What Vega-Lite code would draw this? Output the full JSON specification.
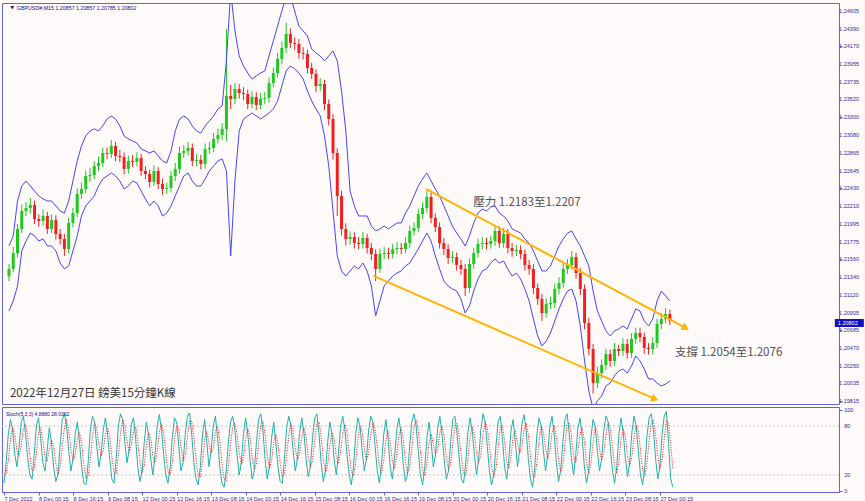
{
"$schema":"https://vega.github.io/schema/vega-lite/v6.json",
"background":"#fffafa",
"padding":{"left":1,"top":2,"right":0,"bottom":0},
"spacing":0,
"config":{"view":{"stroke":"#6262e6","strokeWidth":1},"axis":{"grid":false,"labelOverlap":false,"labelFont":"Liberation Sans","labelFontSize":5.5,"labelColor":"#2c2ca0","domainColor":"#6262e6","tickColor":"#6262e6","tickSize":3},"font":"Liberation Sans"},
"datasets":{
"px":[
{"k":0,"o":1.21350,"c":1.21440,"h":1.21500,"l":1.21290,"u":1.21722,"b":1.20924},
{"k":1,"o":1.21440,"c":1.21635,"h":1.21710,"l":1.21400,"u":1.21845,"b":1.21047},
{"k":2,"o":1.21635,"c":1.21931,"h":1.21990,"l":1.21580,"u":1.22274,"b":1.21231},
{"k":3,"o":1.21931,"c":1.22151,"h":1.22230,"l":1.21880,"u":1.22458,"b":1.21660},
{"k":4,"o":1.22151,"c":1.22188,"h":1.22260,"l":1.22090,"u":1.22519,"b":1.21783},
{"k":5,"o":1.22188,"c":1.22225,"h":1.22310,"l":1.22120,"u":1.22458,"b":1.21881},
{"k":6,"o":1.22225,"c":1.22053,"h":1.22280,"l":1.21990,"u":1.22397,"b":1.21845},
{"k":7,"o":1.22053,"c":1.22029,"h":1.22110,"l":1.21960,"u":1.22336,"b":1.21783},
{"k":8,"o":1.22029,"c":1.22090,"h":1.22170,"l":1.21970,"u":1.22299,"b":1.21808},
{"k":9,"o":1.22090,"c":1.21931,"h":1.22140,"l":1.21870,"u":1.22274,"b":1.21722},
{"k":10,"o":1.21931,"c":1.22041,"h":1.22110,"l":1.21880,"u":1.22274,"b":1.21722},
{"k":11,"o":1.22041,"c":1.21869,"h":1.22100,"l":1.21800,"u":1.22213,"b":1.21660},
{"k":12,"o":1.21869,"c":1.21808,"h":1.21930,"l":1.21740,"u":1.22151,"b":1.21513},
{"k":13,"o":1.21808,"c":1.21685,"h":1.21870,"l":1.21600,"u":1.22126,"b":1.21440},
{"k":14,"o":1.21685,"c":1.22004,"h":1.22070,"l":1.21630,"u":1.22274,"b":1.21476},
{"k":15,"o":1.22004,"c":1.22126,"h":1.22190,"l":1.21950,"u":1.22519,"b":1.21660},
{"k":16,"o":1.22126,"c":1.22360,"h":1.22430,"l":1.22080,"u":1.22765,"b":1.21845},
{"k":17,"o":1.22360,"c":1.22421,"h":1.22500,"l":1.22300,"u":1.22949,"b":1.22090},
{"k":18,"o":1.22421,"c":1.22581,"h":1.22650,"l":1.22370,"u":1.23072,"b":1.22213},
{"k":19,"o":1.22581,"c":1.22593,"h":1.22680,"l":1.22510,"u":1.23133,"b":1.22274},
{"k":20,"o":1.22593,"c":1.22704,"h":1.22760,"l":1.22540,"u":1.23158,"b":1.22336},
{"k":21,"o":1.22704,"c":1.22740,"h":1.22820,"l":1.22640,"u":1.23133,"b":1.22458},
{"k":22,"o":1.22740,"c":1.22863,"h":1.22930,"l":1.22690,"u":1.23194,"b":1.22544},
{"k":23,"o":1.22863,"c":1.22851,"h":1.22930,"l":1.22790,"u":1.23280,"b":1.22581},
{"k":24,"o":1.22851,"c":1.22949,"h":1.23020,"l":1.22800,"u":1.23317,"b":1.22618},
{"k":25,"o":1.22949,"c":1.22827,"h":1.23000,"l":1.22760,"u":1.23280,"b":1.22581},
{"k":26,"o":1.22827,"c":1.22814,"h":1.22900,"l":1.22750,"u":1.23194,"b":1.22519},
{"k":27,"o":1.22814,"c":1.22667,"h":1.22870,"l":1.22600,"u":1.23072,"b":1.22421},
{"k":28,"o":1.22667,"c":1.22765,"h":1.22830,"l":1.22610,"u":1.23035,"b":1.22458},
{"k":29,"o":1.22765,"c":1.22753,"h":1.22840,"l":1.22690,"u":1.23010,"b":1.22519},
{"k":30,"o":1.22753,"c":1.22802,"h":1.22870,"l":1.22700,"u":1.22985,"b":1.22495},
{"k":31,"o":1.22802,"c":1.22642,"h":1.22850,"l":1.22580,"u":1.22912,"b":1.22397},
{"k":32,"o":1.22642,"c":1.22605,"h":1.22700,"l":1.22540,"u":1.22888,"b":1.22299},
{"k":33,"o":1.22605,"c":1.22507,"h":1.22660,"l":1.22440,"u":1.22863,"b":1.22213},
{"k":34,"o":1.22507,"c":1.22642,"h":1.22710,"l":1.22460,"u":1.22888,"b":1.22274},
{"k":35,"o":1.22642,"c":1.22482,"h":1.22690,"l":1.22420,"u":1.22827,"b":1.22213},
{"k":36,"o":1.22482,"c":1.22421,"h":1.22550,"l":1.22350,"u":1.22765,"b":1.22090},
{"k":37,"o":1.22421,"c":1.22433,"h":1.22500,"l":1.22360,"u":1.22740,"b":1.22126},
{"k":38,"o":1.22433,"c":1.22581,"h":1.22640,"l":1.22380,"u":1.22888,"b":1.22213},
{"k":39,"o":1.22581,"c":1.22667,"h":1.22740,"l":1.22520,"u":1.23133,"b":1.22336},
{"k":40,"o":1.22667,"c":1.22863,"h":1.22940,"l":1.22610,"u":1.23280,"b":1.22458},
{"k":41,"o":1.22863,"c":1.22888,"h":1.22960,"l":1.22800,"u":1.23317,"b":1.22581},
{"k":42,"o":1.22888,"c":1.22924,"h":1.23000,"l":1.22830,"u":1.23280,"b":1.22618},
{"k":43,"o":1.22924,"c":1.22765,"h":1.22980,"l":1.22700,"u":1.23194,"b":1.22519},
{"k":44,"o":1.22765,"c":1.22778,"h":1.22850,"l":1.22700,"u":1.23133,"b":1.22458},
{"k":45,"o":1.22778,"c":1.22728,"h":1.22840,"l":1.22660,"u":1.23108,"b":1.22458},
{"k":46,"o":1.22728,"c":1.22912,"h":1.22980,"l":1.22670,"u":1.23194,"b":1.22544},
{"k":47,"o":1.22912,"c":1.22924,"h":1.23000,"l":1.22850,"u":1.23256,"b":1.22642},
{"k":48,"o":1.22924,"c":1.23035,"h":1.23110,"l":1.22870,"u":1.23317,"b":1.22704},
{"k":49,"o":1.23035,"c":1.23084,"h":1.23160,"l":1.22980,"u":1.23403,"b":1.22765},
{"k":50,"o":1.23084,"c":1.23158,"h":1.23230,"l":1.23020,"u":1.23440,"b":1.22790},
{"k":51,"o":1.23158,"c":1.23563,"h":1.24384,"l":1.23010,"u":1.23992,"b":1.22642},
{"k":52,"o":1.23563,"c":1.23526,"h":1.23700,"l":1.23400,"u":1.24851,"b":1.21599},
{"k":53,"o":1.23526,"c":1.23648,"h":1.23720,"l":1.23460,"u":1.24360,"b":1.22519},
{"k":54,"o":1.23648,"c":1.23599,"h":1.23710,"l":1.23530,"u":1.24053,"b":1.23133},
{"k":55,"o":1.23599,"c":1.23587,"h":1.23670,"l":1.23510,"u":1.23931,"b":1.23280},
{"k":56,"o":1.23587,"c":1.23464,"h":1.23640,"l":1.23400,"u":1.23844,"b":1.23317},
{"k":57,"o":1.23464,"c":1.23550,"h":1.23620,"l":1.23410,"u":1.23771,"b":1.23354},
{"k":58,"o":1.23550,"c":1.23452,"h":1.23610,"l":1.23390,"u":1.23808,"b":1.23317},
{"k":59,"o":1.23452,"c":1.23526,"h":1.23600,"l":1.23400,"u":1.23844,"b":1.23280},
{"k":60,"o":1.23526,"c":1.23538,"h":1.23610,"l":1.23460,"u":1.23869,"b":1.23317},
{"k":61,"o":1.23538,"c":1.23721,"h":1.23790,"l":1.23480,"u":1.24053,"b":1.23354},
{"k":62,"o":1.23721,"c":1.23844,"h":1.23910,"l":1.23670,"u":1.24237,"b":1.23403},
{"k":63,"o":1.23844,"c":1.24017,"h":1.24090,"l":1.23790,"u":1.24421,"b":1.23501},
{"k":64,"o":1.24017,"c":1.24151,"h":1.24230,"l":1.23950,"u":1.24605,"b":1.23685},
{"k":65,"o":1.24151,"c":1.24323,"h":1.24458,"l":1.24090,"u":1.24790,"b":1.23869},
{"k":66,"o":1.24323,"c":1.24212,"h":1.24390,"l":1.24150,"u":1.24790,"b":1.23931},
{"k":67,"o":1.24212,"c":1.24200,"h":1.24280,"l":1.24130,"u":1.24605,"b":1.23894},
{"k":68,"o":1.24200,"c":1.24090,"h":1.24260,"l":1.24020,"u":1.24421,"b":1.23844},
{"k":69,"o":1.24090,"c":1.24078,"h":1.24160,"l":1.24010,"u":1.24360,"b":1.23771},
{"k":70,"o":1.24078,"c":1.23906,"h":1.24130,"l":1.23840,"u":1.24298,"b":1.23624},
{"k":71,"o":1.23906,"c":1.23832,"h":1.23970,"l":1.23770,"u":1.24139,"b":1.23501},
{"k":72,"o":1.23832,"c":1.23685,"h":1.23890,"l":1.23610,"u":1.24090,"b":1.23403},
{"k":73,"o":1.23685,"c":1.23709,"h":1.23780,"l":1.23620,"u":1.24053,"b":1.23317},
{"k":74,"o":1.23709,"c":1.23464,"h":1.23760,"l":1.23390,"u":1.23992,"b":1.23072},
{"k":75,"o":1.23464,"c":1.23280,"h":1.23520,"l":1.23200,"u":1.24053,"b":1.22704},
{"k":76,"o":1.23280,"c":1.22863,"h":1.23340,"l":1.22780,"u":1.24115,"b":1.22151},
{"k":77,"o":1.22863,"c":1.22336,"h":1.22920,"l":1.22090,"u":1.23992,"b":1.21599},
{"k":78,"o":1.22336,"c":1.21931,"h":1.22400,"l":1.21850,"u":1.23624,"b":1.21415},
{"k":79,"o":1.21931,"c":1.21808,"h":1.22000,"l":1.21730,"u":1.23133,"b":1.21353},
{"k":80,"o":1.21808,"c":1.21832,"h":1.21900,"l":1.21740,"u":1.22397,"b":1.21415},
{"k":81,"o":1.21832,"c":1.21758,"h":1.21890,"l":1.21690,"u":1.22213,"b":1.21476},
{"k":82,"o":1.21758,"c":1.21746,"h":1.21830,"l":1.21680,"u":1.22090,"b":1.21440},
{"k":83,"o":1.21746,"c":1.21820,"h":1.21890,"l":1.21690,"u":1.22090,"b":1.21513},
{"k":84,"o":1.21820,"c":1.21697,"h":1.21870,"l":1.21630,"u":1.22090,"b":1.21415},
{"k":85,"o":1.21697,"c":1.21623,"h":1.21760,"l":1.21550,"u":1.21967,"b":1.21231},
{"k":86,"o":1.21623,"c":1.21440,"h":1.21680,"l":1.21292,"u":1.21906,"b":1.20863},
{"k":87,"o":1.21440,"c":1.21623,"h":1.21690,"l":1.21390,"u":1.21931,"b":1.21047},
{"k":88,"o":1.21623,"c":1.21635,"h":1.21710,"l":1.21560,"u":1.21967,"b":1.21231},
{"k":89,"o":1.21635,"c":1.21623,"h":1.21700,"l":1.21560,"u":1.21931,"b":1.21292},
{"k":90,"o":1.21623,"c":1.21685,"h":1.21750,"l":1.21570,"u":1.21967,"b":1.21353},
{"k":91,"o":1.21685,"c":1.21697,"h":1.21770,"l":1.21620,"u":1.22004,"b":1.21390},
{"k":92,"o":1.21697,"c":1.21685,"h":1.21760,"l":1.21620,"u":1.22004,"b":1.21415},
{"k":93,"o":1.21685,"c":1.21758,"h":1.21830,"l":1.21630,"u":1.22126,"b":1.21476},
{"k":94,"o":1.21758,"c":1.21906,"h":1.21970,"l":1.21700,"u":1.22213,"b":1.21513},
{"k":95,"o":1.21906,"c":1.21943,"h":1.22010,"l":1.21850,"u":1.22336,"b":1.21599},
{"k":96,"o":1.21943,"c":1.22114,"h":1.22180,"l":1.21890,"u":1.22458,"b":1.21685},
{"k":97,"o":1.22114,"c":1.22188,"h":1.22260,"l":1.22050,"u":1.22544,"b":1.21783},
{"k":98,"o":1.22188,"c":1.22323,"h":1.22397,"l":1.22130,"u":1.22618,"b":1.21881},
{"k":99,"o":1.22323,"c":1.22065,"h":1.22380,"l":1.22000,"u":1.22519,"b":1.21783},
{"k":100,"o":1.22065,"c":1.21955,"h":1.22120,"l":1.21890,"u":1.22421,"b":1.21599},
{"k":101,"o":1.21955,"c":1.21758,"h":1.22010,"l":1.21690,"u":1.22336,"b":1.21440},
{"k":102,"o":1.21758,"c":1.21685,"h":1.21820,"l":1.21610,"u":1.22213,"b":1.21292},
{"k":103,"o":1.21685,"c":1.21574,"h":1.21740,"l":1.21500,"u":1.22090,"b":1.21231},
{"k":104,"o":1.21574,"c":1.21586,"h":1.21660,"l":1.21510,"u":1.21967,"b":1.21194},
{"k":105,"o":1.21586,"c":1.21489,"h":1.21640,"l":1.21420,"u":1.21881,"b":1.21170},
{"k":106,"o":1.21489,"c":1.21440,"h":1.21550,"l":1.21370,"u":1.21808,"b":1.21072},
{"k":107,"o":1.21440,"c":1.21206,"h":1.21500,"l":1.21108,"u":1.21722,"b":1.20899},
{"k":108,"o":1.21206,"c":1.21501,"h":1.21570,"l":1.21150,"u":1.21845,"b":1.20986},
{"k":109,"o":1.21501,"c":1.21635,"h":1.21700,"l":1.21440,"u":1.22004,"b":1.21170},
{"k":110,"o":1.21635,"c":1.21746,"h":1.21810,"l":1.21580,"u":1.22126,"b":1.21317},
{"k":111,"o":1.21746,"c":1.21758,"h":1.21830,"l":1.21680,"u":1.22176,"b":1.21415},
{"k":112,"o":1.21758,"c":1.21746,"h":1.21820,"l":1.21680,"u":1.22151,"b":1.21440},
{"k":113,"o":1.21746,"c":1.21783,"h":1.21850,"l":1.21690,"u":1.22201,"b":1.21513},
{"k":114,"o":1.21783,"c":1.21906,"h":1.21980,"l":1.21720,"u":1.22213,"b":1.21562},
{"k":115,"o":1.21906,"c":1.21758,"h":1.21960,"l":1.21700,"u":1.22126,"b":1.21513},
{"k":116,"o":1.21758,"c":1.21869,"h":1.21940,"l":1.21700,"u":1.22090,"b":1.21538},
{"k":117,"o":1.21869,"c":1.21697,"h":1.21930,"l":1.21630,"u":1.22029,"b":1.21440},
{"k":118,"o":1.21697,"c":1.21660,"h":1.21760,"l":1.21590,"u":1.21931,"b":1.21353},
{"k":119,"o":1.21660,"c":1.21672,"h":1.21740,"l":1.21600,"u":1.21906,"b":1.21390},
{"k":120,"o":1.21672,"c":1.21623,"h":1.21730,"l":1.21560,"u":1.21881,"b":1.21317},
{"k":121,"o":1.21623,"c":1.21489,"h":1.21680,"l":1.21420,"u":1.21808,"b":1.21194},
{"k":122,"o":1.21489,"c":1.21440,"h":1.21550,"l":1.21370,"u":1.21758,"b":1.21047},
{"k":123,"o":1.21440,"c":1.21206,"h":1.21500,"l":1.21130,"u":1.21660,"b":1.20826},
{"k":124,"o":1.21206,"c":1.21072,"h":1.21260,"l":1.21000,"u":1.21538,"b":1.20618},
{"k":125,"o":1.21072,"c":1.20899,"h":1.21130,"l":1.20802,"u":1.21415,"b":1.20495},
{"k":126,"o":1.20899,"c":1.21010,"h":1.21080,"l":1.20840,"u":1.21415,"b":1.20556},
{"k":127,"o":1.21010,"c":1.21022,"h":1.21100,"l":1.20950,"u":1.21476,"b":1.20654},
{"k":128,"o":1.21022,"c":1.21194,"h":1.21260,"l":1.20960,"u":1.21599,"b":1.20802},
{"k":129,"o":1.21194,"c":1.21267,"h":1.21340,"l":1.21130,"u":1.21722,"b":1.20949},
{"k":130,"o":1.21267,"c":1.21440,"h":1.21510,"l":1.21210,"u":1.21808,"b":1.21072},
{"k":131,"o":1.21440,"c":1.21489,"h":1.21560,"l":1.21380,"u":1.21881,"b":1.21170},
{"k":132,"o":1.21489,"c":1.21586,"h":1.21660,"l":1.21430,"u":1.21906,"b":1.21194},
{"k":133,"o":1.21586,"c":1.21390,"h":1.21640,"l":1.21320,"u":1.21808,"b":1.21047},
{"k":134,"o":1.21390,"c":1.21194,"h":1.21450,"l":1.21120,"u":1.21722,"b":1.20740},
{"k":135,"o":1.21194,"c":1.20777,"h":1.21250,"l":1.20700,"u":1.21599,"b":1.20311},
{"k":136,"o":1.20777,"c":1.20458,"h":1.20840,"l":1.20380,"u":1.21476,"b":1.19943},
{"k":137,"o":1.20458,"c":1.20040,"h":1.20520,"l":1.19910,"u":1.21170,"b":1.19722},
{"k":138,"o":1.20040,"c":1.20163,"h":1.20240,"l":1.19980,"u":1.20924,"b":1.19820},
{"k":139,"o":1.20163,"c":1.20262,"h":1.20330,"l":1.20100,"u":1.20802,"b":1.19881},
{"k":140,"o":1.20262,"c":1.20396,"h":1.20460,"l":1.20200,"u":1.20679,"b":1.20004},
{"k":141,"o":1.20396,"c":1.20311,"h":1.20450,"l":1.20240,"u":1.20618,"b":1.20040},
{"k":142,"o":1.20311,"c":1.20458,"h":1.20530,"l":1.20250,"u":1.20679,"b":1.20127},
{"k":143,"o":1.20458,"c":1.20433,"h":1.20510,"l":1.20370,"u":1.20704,"b":1.20188},
{"k":144,"o":1.20433,"c":1.20519,"h":1.20590,"l":1.20370,"u":1.20740,"b":1.20213},
{"k":145,"o":1.20519,"c":1.20409,"h":1.20580,"l":1.20340,"u":1.20704,"b":1.20163},
{"k":146,"o":1.20409,"c":1.20581,"h":1.20650,"l":1.20350,"u":1.20826,"b":1.20249},
{"k":147,"o":1.20581,"c":1.20654,"h":1.20720,"l":1.20520,"u":1.20949,"b":1.20372},
{"k":148,"o":1.20654,"c":1.20605,"h":1.20720,"l":1.20540,"u":1.20924,"b":1.20311},
{"k":149,"o":1.20605,"c":1.20470,"h":1.20660,"l":1.20400,"u":1.20802,"b":1.20213},
{"k":150,"o":1.20470,"c":1.20458,"h":1.20530,"l":1.20390,"u":1.20740,"b":1.20090},
{"k":151,"o":1.20458,"c":1.20531,"h":1.20600,"l":1.20390,"u":1.20826,"b":1.20090},
{"k":152,"o":1.20531,"c":1.20765,"h":1.20830,"l":1.20470,"u":1.21047,"b":1.20040},
{"k":153,"o":1.20765,"c":1.20826,"h":1.20900,"l":1.20700,"u":1.21170,"b":1.20004},
{"k":154,"o":1.20826,"c":1.20887,"h":1.20960,"l":1.20770,"u":1.21108,"b":1.20028},
{"k":155,"o":1.20887,"c":1.20802,"h":1.20940,"l":1.20750,"u":1.21047,"b":1.20065}
],
"st":[
{"k":0,"s":10,"d":20},{"k":0.5,"s":35,"d":22},{"k":1,"s":70,"d":38},{"k":1.5,"s":88,"d":64},{"k":2,"s":75,"d":78},{"k":2.5,"s":45,"d":69},{"k":3,"s":30,"d":50},{"k":3.5,"s":55,"d":43},{"k":4,"s":85,"d":57},{"k":4.5,"s":92,"d":77},
{"k":5,"s":70,"d":82},{"k":5.5,"s":40,"d":67},{"k":6,"s":20,"d":43},{"k":6.5,"s":15,"d":25},{"k":7,"s":45,"d":27},{"k":7.5,"s":80,"d":47},{"k":8,"s":90,"d":72},{"k":8.5,"s":65,"d":78},{"k":9,"s":35,"d":63},{"k":9.5,"s":25,"d":42},
{"k":10,"s":50,"d":37},{"k":10.5,"s":78,"d":51},{"k":11,"s":60,"d":63},{"k":11.5,"s":30,"d":56},{"k":12,"s":12,"d":34},{"k":12.5,"s":20,"d":21},{"k":13,"s":55,"d":29},{"k":13.5,"s":88,"d":54},{"k":14,"s":95,"d":79},{"k":14.5,"s":80,"d":88},
{"k":15,"s":50,"d":75},{"k":15.5,"s":25,"d":52},{"k":16,"s":40,"d":38},{"k":16.5,"s":70,"d":45},{"k":17,"s":85,"d":65},{"k":17.5,"s":60,"d":72},{"k":18,"s":30,"d":58},{"k":18.5,"s":10,"d":33},{"k":19,"s":8,"d":16},{"k":19.5,"s":35,"d":18},
{"k":20,"s":75,"d":39},{"k":20.5,"s":92,"d":67},{"k":21,"s":85,"d":84},{"k":21.5,"s":55,"d":77},{"k":22,"s":30,"d":57},{"k":22.5,"s":45,"d":43},{"k":23,"s":75,"d":50},{"k":23.5,"s":90,"d":70},{"k":24,"s":70,"d":78},{"k":24.5,"s":40,"d":67},
{"k":25,"s":15,"d":42},{"k":25.5,"s":10,"d":22},{"k":26,"s":40,"d":22},{"k":26.5,"s":80,"d":43},{"k":27,"s":95,"d":72},{"k":27.5,"s":88,"d":88},{"k":28,"s":60,"d":81},{"k":28.5,"s":35,"d":61},{"k":29,"s":50,"d":48},{"k":29.5,"s":82,"d":56},
{"k":30,"s":90,"d":74},{"k":30.5,"s":65,"d":79},{"k":31,"s":30,"d":62},{"k":31.5,"s":12,"d":36},{"k":32,"s":25,"d":22},{"k":32.5,"s":60,"d":32},{"k":33,"s":85,"d":57},{"k":33.5,"s":70,"d":72},{"k":34,"s":40,"d":65},{"k":34.5,"s":20,"d":43},
{"k":35,"s":45,"d":35},{"k":35.5,"s":80,"d":48},{"k":36,"s":94,"d":73},{"k":36.5,"s":75,"d":83},{"k":37,"s":45,"d":71},{"k":37.5,"s":20,"d":47},{"k":38,"s":10,"d":25},{"k":38.5,"s":30,"d":20},{"k":39,"s":65,"d":35},{"k":39.5,"s":90,"d":62},
{"k":40,"s":85,"d":80},{"k":40.5,"s":55,"d":77},{"k":41,"s":25,"d":55},{"k":41.5,"s":35,"d":38},{"k":42,"s":70,"d":43},{"k":42.5,"s":92,"d":66},{"k":43,"s":96,"d":86},{"k":43.5,"s":70,"d":86},{"k":44,"s":35,"d":67},{"k":44.5,"s":15,"d":40},
{"k":45,"s":8,"d":19},{"k":45.5,"s":30,"d":18},{"k":46,"s":70,"d":36},{"k":46.5,"s":88,"d":63},{"k":47,"s":60,"d":73},{"k":47.5,"s":30,"d":59},{"k":48,"s":50,"d":47},{"k":48.5,"s":80,"d":53},{"k":49,"s":92,"d":74},{"k":49.5,"s":65,"d":79},
{"k":50,"s":30,"d":62},{"k":50.5,"s":10,"d":35},{"k":51,"s":5,"d":15},{"k":51.5,"s":25,"d":13},{"k":52,"s":60,"d":30},{"k":52.5,"s":85,"d":57},{"k":53,"s":92,"d":79},{"k":53.5,"s":75,"d":84},{"k":54,"s":45,"d":71},{"k":54.5,"s":20,"d":47},
{"k":55,"s":35,"d":33},{"k":55.5,"s":70,"d":42},{"k":56,"s":90,"d":65},{"k":56.5,"s":70,"d":77},{"k":57,"s":40,"d":67},{"k":57.5,"s":15,"d":42},{"k":58,"s":25,"d":27},{"k":58.5,"s":60,"d":33},{"k":59,"s":88,"d":58},{"k":59.5,"s":95,"d":81},
{"k":60,"s":75,"d":86},{"k":60.5,"s":40,"d":70},{"k":61,"s":15,"d":43},{"k":61.5,"s":30,"d":28},{"k":62,"s":65,"d":37},{"k":62.5,"s":85,"d":60},{"k":63,"s":60,"d":70},{"k":63.5,"s":30,"d":58},{"k":64,"s":12,"d":34},{"k":64.5,"s":10,"d":17},
{"k":65,"s":40,"d":21},{"k":65.5,"s":78,"d":43},{"k":66,"s":92,"d":70},{"k":66.5,"s":80,"d":83},{"k":67,"s":50,"d":74},{"k":67.5,"s":25,"d":52},{"k":68,"s":40,"d":38},{"k":68.5,"s":72,"d":46},{"k":69,"s":90,"d":67},{"k":69.5,"s":72,"d":78},
{"k":70,"s":40,"d":67},{"k":70.5,"s":18,"d":43},{"k":71,"s":30,"d":29},{"k":71.5,"s":65,"d":38},{"k":72,"s":90,"d":62},{"k":72.5,"s":95,"d":83},{"k":73,"s":70,"d":85},{"k":73.5,"s":35,"d":67},{"k":74,"s":12,"d":39},{"k":74.5,"s":25,"d":24},
{"k":75,"s":60,"d":32},{"k":75.5,"s":85,"d":57},{"k":76,"s":70,"d":72},{"k":76.5,"s":40,"d":65},{"k":77,"s":20,"d":43},{"k":77.5,"s":45,"d":35},{"k":78,"s":80,"d":48},{"k":78.5,"s":92,"d":72},{"k":79,"s":75,"d":82},{"k":79.5,"s":45,"d":71},
{"k":80,"s":20,"d":47},{"k":80.5,"s":8,"d":24},{"k":81,"s":30,"d":19},{"k":81.5,"s":70,"d":36},{"k":82,"s":90,"d":63},{"k":82.5,"s":80,"d":80},{"k":83,"s":50,"d":73},{"k":83.5,"s":25,"d":52},{"k":84,"s":40,"d":38},{"k":84.5,"s":75,"d":47},
{"k":85,"s":92,"d":69},{"k":85.5,"s":85,"d":84},{"k":86,"s":55,"d":77},{"k":86.5,"s":25,"d":55},{"k":87,"s":10,"d":30},{"k":87.5,"s":35,"d":23},{"k":88,"s":70,"d":38},{"k":88.5,"s":88,"d":64},{"k":89,"s":65,"d":74},{"k":89.5,"s":30,"d":61},
{"k":90,"s":15,"d":37},{"k":90.5,"s":40,"d":28},{"k":91,"s":75,"d":43},{"k":91.5,"s":90,"d":68},{"k":92,"s":70,"d":78},{"k":92.5,"s":35,"d":65},{"k":93,"s":12,"d":39},{"k":93.5,"s":20,"d":22},{"k":94,"s":55,"d":29},{"k":94.5,"s":85,"d":53},
{"k":95,"s":95,"d":78},{"k":95.5,"s":80,"d":87},{"k":96,"s":50,"d":75},{"k":96.5,"s":20,"d":50},{"k":97,"s":8,"d":26},{"k":97.5,"s":30,"d":19},{"k":98,"s":65,"d":34},{"k":98.5,"s":85,"d":60},{"k":99,"s":60,"d":70},{"k":99.5,"s":30,"d":58},
{"k":100,"s":45,"d":45},{"k":100.5,"s":78,"d":51},{"k":101,"s":92,"d":72},{"k":101.5,"s":70,"d":80},{"k":102,"s":40,"d":67},{"k":102.5,"s":15,"d":42},{"k":103,"s":25,"d":27},{"k":103.5,"s":60,"d":33},{"k":104,"s":88,"d":58},{"k":104.5,"s":92,"d":80},
{"k":105,"s":70,"d":83},{"k":105.5,"s":40,"d":67},{"k":106,"s":15,"d":42},{"k":106.5,"s":10,"d":22},{"k":107,"s":35,"d":20},{"k":107.5,"s":72,"d":39},{"k":108,"s":90,"d":66},{"k":108.5,"s":75,"d":79},{"k":109,"s":45,"d":70},{"k":109.5,"s":20,"d":47},
{"k":110,"s":40,"d":35},{"k":110.5,"s":75,"d":45},{"k":111,"s":95,"d":70},{"k":111.5,"s":85,"d":85},{"k":112,"s":55,"d":78},{"k":112.5,"s":25,"d":55},{"k":113,"s":8,"d":29},{"k":113.5,"s":20,"d":18},{"k":114,"s":55,"d":28},{"k":114.5,"s":85,"d":53},
{"k":115,"s":92,"d":77},{"k":115.5,"s":65,"d":81},{"k":116,"s":30,"d":62},{"k":116.5,"s":15,"d":37},{"k":117,"s":40,"d":28},{"k":117.5,"s":75,"d":43},{"k":118,"s":88,"d":68},{"k":118.5,"s":60,"d":74},{"k":119,"s":30,"d":59},{"k":119.5,"s":50,"d":47},
{"k":120,"s":82,"d":54},{"k":120.5,"s":94,"d":75},{"k":121,"s":75,"d":84},{"k":121.5,"s":40,"d":70},{"k":122,"s":15,"d":43},{"k":122.5,"s":5,"d":20},{"k":123,"s":30,"d":17},{"k":123.5,"s":70,"d":35},{"k":124,"s":90,"d":63},{"k":124.5,"s":80,"d":80},
{"k":125,"s":50,"d":73},{"k":125.5,"s":25,"d":52},{"k":126,"s":45,"d":40},{"k":126.5,"s":80,"d":50},{"k":127,"s":92,"d":72},{"k":127.5,"s":70,"d":81},{"k":128,"s":35,"d":66},{"k":128.5,"s":12,"d":39},{"k":129,"s":25,"d":24},{"k":129.5,"s":60,"d":32},
{"k":130,"s":88,"d":58},{"k":130.5,"s":95,"d":81},{"k":131,"s":70,"d":84},{"k":131.5,"s":40,"d":68},{"k":132,"s":20,"d":43},{"k":132.5,"s":45,"d":35},{"k":133,"s":78,"d":48},{"k":133.5,"s":90,"d":71},{"k":134,"s":65,"d":78},{"k":134.5,"s":30,"d":62},
{"k":135,"s":10,"d":35},{"k":135.5,"s":25,"d":22},{"k":136,"s":65,"d":33},{"k":136.5,"s":88,"d":59},{"k":137,"s":80,"d":78},{"k":137.5,"s":50,"d":73},{"k":138,"s":25,"d":52},{"k":138.5,"s":40,"d":38},{"k":139,"s":75,"d":47},{"k":139.5,"s":92,"d":69},
{"k":140,"s":85,"d":84},{"k":140.5,"s":55,"d":77},{"k":141,"s":25,"d":55},{"k":141.5,"s":10,"d":30},{"k":142,"s":30,"d":22},{"k":142.5,"s":70,"d":37},{"k":143,"s":90,"d":63},{"k":143.5,"s":72,"d":77},{"k":144,"s":40,"d":67},{"k":144.5,"s":18,"d":43},
{"k":145,"s":35,"d":31},{"k":145.5,"s":72,"d":42},{"k":146,"s":92,"d":66},{"k":146.5,"s":80,"d":81},{"k":147,"s":50,"d":74},{"k":147.5,"s":20,"d":50},{"k":148,"s":8,"d":26},{"k":148.5,"s":30,"d":19},{"k":149,"s":68,"d":35},{"k":149.5,"s":90,"d":63},
{"k":150,"s":95,"d":84},{"k":150.5,"s":75,"d":87},{"k":151,"s":40,"d":70},{"k":151.5,"s":15,"d":43},{"k":152,"s":30,"d":28},{"k":152.5,"s":70,"d":38},{"k":153,"s":92,"d":64},{"k":153.5,"s":98,"d":87},{"k":154,"s":60,"d":83},{"k":154.5,"s":15,"d":58},
{"k":155,"s":4.888,"d":28.04}
],
"ch":[
{"id":"up","k1":97.8,"p1":1.22421,"k2":158.7,"p2":1.20716},
{"id":"dn","k1":85.5,"p1":1.21354,"k2":151.5,"p2":1.19845}
],
"yl":[{"p":1.24605},{"p":1.2439},{"p":1.2417},{"p":1.23955},{"p":1.23735},{"p":1.2352},{"p":1.233},{"p":1.2308},{"p":1.22865},{"p":1.22645},{"p":1.2243},{"p":1.2221},{"p":1.21995},{"p":1.21775},{"p":1.2156},{"p":1.2134},{"p":1.2112},{"p":1.20905},{"p":1.20685},{"p":1.2047},{"p":1.2025},{"p":1.20035},{"p":1.19815}]
},
"vconcat":[
{
"width":837,"height":401,
"layer":[
{"data":{"name":"px"},"mark":{"type":"rule","strokeWidth":1},
 "encoding":{
  "x":{"field":"k","type":"quantitative","scale":{"domain":[-0.463,193.5],"nice":false,"zero":false},"axis":null},
  "y":{"field":"l","type":"quantitative","title":null,"scale":{"domain":[1.19783,1.24703],"nice":false,"zero":false},
   "axis":{"orient":"right","title":null,"values":[1.24605,1.2439,1.2417,1.23955,1.23735,1.2352,1.233,1.2308,1.22865,1.22645,1.2243,1.2221,1.21995,1.21775,1.2156,1.2134,1.2112,1.20905,1.20685,1.2047,1.2025,1.20035,1.19815],"labels":false}},
  "y2":{"field":"h"},
  "color":{"condition":{"test":"datum.c>=datum.o","value":"#1ec81e"},"value":"#f02020"}}},
{"data":{"name":"px"},"mark":{"type":"bar","size":3},
 "encoding":{
  "x":{"field":"k","type":"quantitative","scale":{"domain":[-0.463,193.5],"nice":false,"zero":false},"axis":null},
  "y":{"field":"o","type":"quantitative","title":null,"scale":{"domain":[1.19783,1.24703],"nice":false,"zero":false}},
  "y2":{"field":"c"},
  "color":{"condition":{"test":"datum.c>=datum.o","value":"#1ec81e"},"value":"#f02020"}}},
{"data":{"name":"px"},"mark":{"type":"line","color":"#4545ff","strokeWidth":1,"clip":true},
 "encoding":{"x":{"field":"k","type":"quantitative","scale":{"domain":[-0.463,193.5],"nice":false,"zero":false},"axis":null},
  "y":{"field":"u","type":"quantitative","title":null,"scale":{"domain":[1.19783,1.24703],"nice":false,"zero":false}}}},
{"data":{"name":"px"},"mark":{"type":"line","color":"#4545ff","strokeWidth":1,"clip":true},
 "encoding":{"x":{"field":"k","type":"quantitative","scale":{"domain":[-0.463,193.5],"nice":false,"zero":false},"axis":null},
  "y":{"field":"b","type":"quantitative","title":null,"scale":{"domain":[1.19783,1.24703],"nice":false,"zero":false}}}},
{"data":{"name":"ch"},"mark":{"type":"rule","color":"#ffb400","strokeWidth":2},
 "encoding":{"x":{"field":"k1","type":"quantitative","scale":{"domain":[-0.463,193.5],"nice":false,"zero":false},"axis":null},
  "y":{"field":"p1","type":"quantitative","title":null,"scale":{"domain":[1.19783,1.24703],"nice":false,"zero":false}},
  "x2":{"field":"k2"},"y2":{"field":"p2"}}},
{"data":{"name":"ch"},"transform":[{"filter":"datum.id=='up'"}],"mark":{"type":"point","shape":"triangle-right","filled":true,"color":"#ffb400","opacity":1,"size":70,"angle":28},
 "encoding":{"x":{"field":"k2","type":"quantitative","scale":{"domain":[-0.463,193.5],"nice":false,"zero":false},"axis":null},
  "y":{"field":"p2","type":"quantitative","title":null,"scale":{"domain":[1.19783,1.24703],"nice":false,"zero":false}}}},
{"data":{"name":"ch"},"transform":[{"filter":"datum.id=='dn'"}],"mark":{"type":"point","shape":"triangle-right","filled":true,"color":"#ffb400","opacity":1,"size":70,"angle":23},
 "encoding":{"x":{"field":"k2","type":"quantitative","scale":{"domain":[-0.463,193.5],"nice":false,"zero":false},"axis":null},
  "y":{"field":"p2","type":"quantitative","title":null,"scale":{"domain":[1.19783,1.24703],"nice":false,"zero":false}}}},
{"data":{"name":"yl"},
 "mark":{"type":"text","align":"left","baseline":"middle","fontSize":5.5,"font":"Liberation Sans","color":"#2c2ca0"},
 "encoding":{"x":{"datum":194.7,"type":"quantitative","scale":{"domain":[-0.463,193.5],"nice":false,"zero":false},"axis":null},
  "y":{"field":"p","type":"quantitative","title":null,"scale":{"domain":[1.19783,1.24703],"nice":false,"zero":false}},
  "text":{"field":"p","type":"quantitative","format":".5f"}}},
{"data":{"values":[{"k":1.85,"p":1.24642,"t":"GBPUSD#,M15  1.20857 1.20857 1.20785 1.20802"}]},
 "mark":{"type":"text","align":"left","baseline":"middle","fontSize":5.3,"font":"Liberation Sans","color":"#10108a"},
 "encoding":{"x":{"field":"k","type":"quantitative","scale":{"domain":[-0.463,193.5],"nice":false,"zero":false},"axis":null},
  "y":{"field":"p","type":"quantitative","title":null,"scale":{"domain":[1.19783,1.24703],"nice":false,"zero":false}},"text":{"field":"t"}}},
{"data":{"values":[{"k":0.35,"p":1.24645,"t":"▼"}]},
 "mark":{"type":"text","align":"left","baseline":"middle","fontSize":4.5,"font":"DejaVu Sans","color":"#10108a"},
 "encoding":{"x":{"field":"k","type":"quantitative","scale":{"domain":[-0.463,193.5],"nice":false,"zero":false},"axis":null},
  "y":{"field":"p","type":"quantitative","title":null,"scale":{"domain":[1.19783,1.24703],"nice":false,"zero":false}},"text":{"field":"t"}}},
{"data":{"values":[{"k":0.23,"p":1.19869,"t":"2022年12月27日 鎊美15分鐘K線"}]},
 "mark":{"type":"text","align":"left","baseline":"alphabetic","fontSize":11.5,"font":"Noto Sans CJK TC","color":"#333333"},
 "encoding":{"x":{"field":"k","type":"quantitative","scale":{"domain":[-0.463,193.5],"nice":false,"zero":false},"axis":null},
  "y":{"field":"p","type":"quantitative","title":null,"scale":{"domain":[1.19783,1.24703],"nice":false,"zero":false}},"text":{"field":"t"}}},
{"data":{"values":[{"k":108.9,"p":1.22213,"t":"壓力 1.2183至1.2207"},{"k":156.2,"p":1.20372,"t":"支撐 1.2054至1.2076"}]},
 "mark":{"type":"text","align":"left","baseline":"alphabetic","fontSize":11.5,"font":"Noto Sans CJK TC","color":"#505050"},
 "encoding":{"x":{"field":"k","type":"quantitative","scale":{"domain":[-0.463,193.5],"nice":false,"zero":false},"axis":null},
  "y":{"field":"p","type":"quantitative","title":null,"scale":{"domain":[1.19783,1.24703],"nice":false,"zero":false}},"text":{"field":"t"}}},
{"data":{"values":[{"k":193.7,"k2":200.5,"p":1.20826,"p2":1.20728}]},
 "mark":{"type":"rect","color":"#1010c0"},
 "encoding":{"x":{"field":"k","type":"quantitative","scale":{"domain":[-0.463,193.5],"nice":false,"zero":false},"axis":null},"x2":{"field":"k2"},
  "y":{"field":"p","type":"quantitative","title":null,"scale":{"domain":[1.19783,1.24703],"nice":false,"zero":false}},"y2":{"field":"p2"}}},
{"data":{"values":[{"k":194.4,"p":1.20777,"t":"1.20802"}]},
 "mark":{"type":"text","align":"left","baseline":"middle","fontSize":5.5,"font":"Liberation Sans","color":"#ffffff"},
 "encoding":{"x":{"field":"k","type":"quantitative","scale":{"domain":[-0.463,193.5],"nice":false,"zero":false},"axis":null},
  "y":{"field":"p","type":"quantitative","title":null,"scale":{"domain":[1.19783,1.24703],"nice":false,"zero":false}},"text":{"field":"t"}}}
]
},
{
"width":837,"height":85,
"layer":[
{"data":{"values":[{"v":80},{"v":20}]},"mark":{"type":"rule","color":"#c4c4c4","strokeDash":[2,2],"strokeWidth":1},
 "encoding":{"y":{"field":"v","type":"quantitative","title":null,"scale":{"domain":[-0.8,103.3],"nice":false,"zero":false},"axis":{"orient":"right","title":null,"values":[100,80,20,0],"labels":false}}}},
{"data":{"values":[{"v":100,"t":"100"},{"v":80,"t":"80"},{"v":20,"t":"20"},{"v":0,"t":"0"}]},
 "mark":{"type":"text","align":"left","baseline":"middle","fontSize":5.5,"font":"Liberation Sans","color":"#2c2ca0"},
 "encoding":{"x":{"datum":194.7,"type":"quantitative","scale":{"domain":[-0.463,193.5],"nice":false,"zero":false}},
  "y":{"field":"v","type":"quantitative","title":null,"scale":{"domain":[-0.8,103.3],"nice":false,"zero":false}},"text":{"field":"t"}}},
{"data":{"name":"st"},"mark":{"type":"line","color":"#20b2aa","strokeWidth":1},
 "encoding":{"x":{"field":"k","type":"quantitative","title":null,"scale":{"domain":[-0.463,193.5],"nice":false,"zero":false},
   "axis":{"orient":"bottom","title":null,"values":[0,8,16,24,32,40,48,56,64,72,80,88,96,104,112,120,128,136,144,152],"labelAlign":"left","labelPadding":1,"labelFlush":false,"labelOverlap":false,
    "labelExpr":"['7 Dec 2022','8 Dec 00:15','8 Dec 16:15','9 Dec 08:15','12 Dec 00:15','12 Dec 16:15','13 Dec 08:15','14 Dec 00:15','14 Dec 16:15','15 Dec 08:15','16 Dec 00:15','16 Dec 16:15','19 Dec 08:15','20 Dec 00:15','20 Dec 16:15','21 Dec 08:15','22 Dec 00:15','22 Dec 16:15','23 Dec 08:15','27 Dec 00:15'][round(datum.value/8)]"}},
  "y":{"field":"s","type":"quantitative","title":null,"scale":{"domain":[-0.8,103.3],"nice":false,"zero":false}}}},
{"data":{"name":"st"},"mark":{"type":"line","color":"#ff1010","strokeWidth":1,"strokeDash":[1,1.5]},
 "encoding":{"x":{"field":"k","type":"quantitative","title":null,"scale":{"domain":[-0.463,193.5],"nice":false,"zero":false}},
  "y":{"field":"d","type":"quantitative","title":null,"scale":{"domain":[-0.8,103.3],"nice":false,"zero":false}}}},
{"data":{"values":[{"k":0.46,"v":94.7,"t":"Stoch(5,3,3) 4.8880 28.0392"}]},
 "mark":{"type":"text","align":"left","baseline":"middle","fontSize":5,"font":"Liberation Sans","color":"#10108a"},
 "encoding":{"x":{"field":"k","type":"quantitative","title":null,"scale":{"domain":[-0.463,193.5],"nice":false,"zero":false}},
  "y":{"field":"v","type":"quantitative","title":null,"scale":{"domain":[-0.8,103.3],"nice":false,"zero":false}},"text":{"field":"t"}}}
]
}
]
}
